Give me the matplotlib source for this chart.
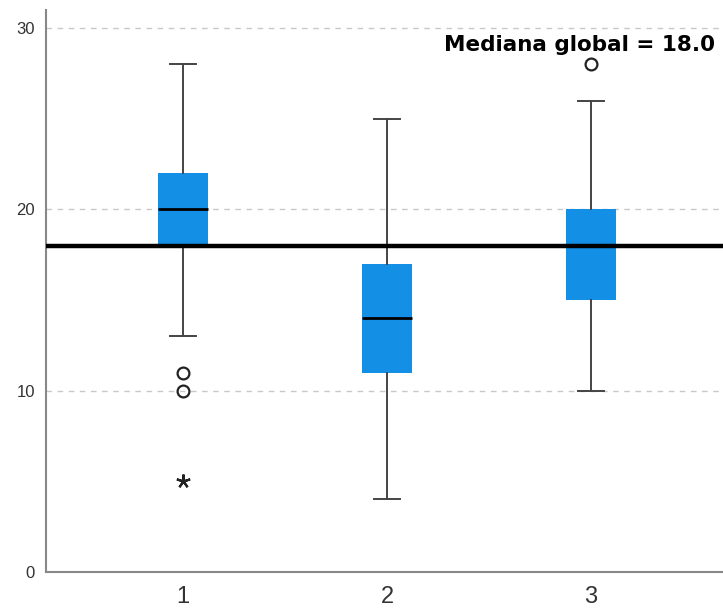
import matplotlib.pyplot as plt
import numpy as np

# datos (estilo SPSS)
grupos = [1, 2, 3]
q1 = [18, 11, 15]
mediana = [20, 14, 18]
q3 = [22, 17, 20]
bigote_inf = [13, 4, 10]
bigote_sup = [28, 25, 26]
atipicos = [[11, 10], [], [28]]
extremos = [[5], [], []]
mediana_global = 18.0

plt.rcParams['font.family'] = ['Liberation Sans', 'DejaVu Sans']

fig = plt.figure(figsize=(7.23, 6.12), dpi=100)
ax = fig.add_axes([46/723, 1-572/612, 1-46/723, (572-10)/612])

stats = []
for i in range(len(grupos)):
    stats.append({'q1': q1[i], 'med': mediana[i], 'q3': q3[i],
                  'whislo': bigote_inf[i], 'whishi': bigote_sup[i],
                  'fliers': atipicos[i]})

ax.bxp(stats, positions=grupos, widths=0.245, patch_artist=True,
       boxprops=dict(facecolor='#1390e5', edgecolor='#1390e5', linewidth=0),
       medianprops=dict(color='black', linewidth=2),
       whiskerprops=dict(color='#444444', linewidth=1.4),
       capprops=dict(color='#444444', linewidth=1.4),
       capwidths=0.13,
       flierprops=dict(marker='o', markersize=8.5, markerfacecolor='none',
                       markeredgecolor='#222222', markeredgewidth=1.6),
       zorder=3)

for i in range(len(grupos)):
    for v in extremos[i]:
        ax.plot(grupos[i], v, marker=(5, 2, 0), markersize=10, color='#222222',
                markeredgewidth=1.6, linestyle='none', zorder=4)

ax.axhline(mediana_global, color='black', linewidth=3.2, zorder=5)
ax.text(3.61, 29.05, 'Mediana global = %.1f' % mediana_global, ha='right', va='center',
        fontsize=15.5, fontweight='bold', color='black', family='DejaVu Sans', zorder=6)

ax.set_xlim(0.328, 3.647)
ax.set_ylim(0, 31)
ax.set_yticks([0, 10, 20, 30])
ax.set_xticks(grupos)
ax.set_xticklabels([str(g) for g in grupos])
ax.tick_params(axis='y', length=0, labelsize=12, labelcolor='#333333', pad=8)
ax.tick_params(axis='x', length=0, labelsize=17, labelcolor='#333333', pad=10)
ax.grid(axis='y', linestyle=(0, (4, 4)), color='#c8c8c8', linewidth=1, zorder=0)
ax.set_axisbelow(True)

for s in ['top', 'right']:
    ax.spines[s].set_visible(False)
for s in ['left', 'bottom']:
    ax.spines[s].set_color('#888888')
    ax.spines[s].set_linewidth(1.5)

fig.savefig('out.png', dpi=100)
